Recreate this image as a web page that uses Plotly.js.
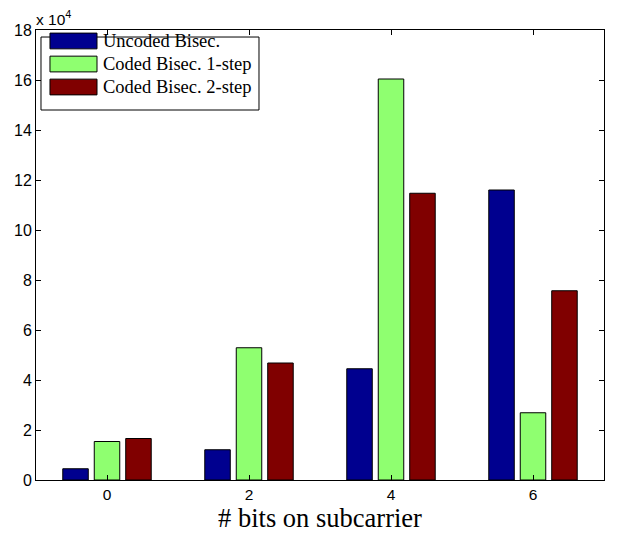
<!DOCTYPE html>
<html>
<head>
<meta charset="utf-8">
<script src="https://cdn.plot.ly/plotly-3.0.1.min.js"></script>
<style>html,body{margin:0;padding:0;background:#fff;}#chart{width:619px;height:540px;}</style>
</head>
<body>
<div id="chart"></div>
<script>
const bitsCategories = [0, 2, 4, 6];
const seriesNames = ["Uncoded Bisec.", "Coded Bisec. 1-step", "Coded Bisec. 2-step"];
const uncodedBisec = [4500, 12100, 44500, 116000];
const codedBisec1step = [15400, 52900, 160400, 26900];
const codedBisec2step = [16600, 46800, 114700, 75700];
const yTickValues = [0, 20000, 40000, 60000, 80000, 100000, 120000, 140000, 160000, 180000];
const yTickLabels = ["0", "2", "4", "6", "8", "10", "12", "14", "16", "18"];
const xTickLabels = ["0", "2", "4", "6"];

const colors = ["#00008F", "#8FFF70", "#800000"];
const seriesValues = [uncodedBisec, codedBisec1step, codedBisec2step];

const traces = seriesValues.map((vals, i) => ({
  type: "bar",
  x: bitsCategories,
  y: vals,
  name: seriesNames[i],
  marker: {color: colors[i], line: {color: "#000", width: 1}},
  showlegend: false,
  hoverinfo: "x+y+name"
}));

// custom MATLAB-style legend (paper coordinates)
const shapes = [{
  type: "rect", xref: "paper", yref: "paper",
  x0: 0.0088, x1: 0.3926, y0: 0.8222, y1: 0.9844,
  line: {color: "#000", width: 1}, fillcolor: "#fff", layer: "above"
}];
const annotations = [];
const rowY = [0.9756, 0.9244, 0.8733];
seriesNames.forEach((n, i) => {
  shapes.push({
    type: "rect", xref: "paper", yref: "paper",
    x0: 0.0246, x1: 0.1074, y0: rowY[i] - 0.0175, y1: rowY[i] + 0.0175,
    line: {color: "#000", width: 1}, fillcolor: colors[i], layer: "above"
  });
  annotations.push({
    xref: "paper", yref: "paper", x: 0.114, y: rowY[i],
    xanchor: "left", yanchor: "middle", showarrow: false,
    text: n, font: {family: "Liberation Serif, Times New Roman, serif", size: 18.5, color: "#000"}
  });
});
annotations.push({
  xref: "paper", yref: "paper", x: -0.004, y: 1.0, xanchor: "left", yanchor: "bottom",
  yshift: 0, showarrow: false,
  text: "x 10<sup>4</sup>", font: {family: "Liberation Sans, Arial, sans-serif", size: 15.5, color: "#000"}
});

const layout = {
  width: 619, height: 540,
  margin: {l: 36, r: 15, t: 30, b: 60},
  paper_bgcolor: "#fff", plot_bgcolor: "#fff",
  barmode: "group", bargap: 0.335, bargroupgap: 0.19,
  font: {family: "Liberation Sans, Arial, sans-serif", size: 16, color: "#000"},
  xaxis: {
    range: [-1, 7], tickvals: bitsCategories, ticktext: xTickLabels,
    showgrid: false, zeroline: false, showline: true, linecolor: "#000", linewidth: 1,
    mirror: "allticks", ticks: "inside", ticklen: 5, tickcolor: "#000",
    tickfont: {size: 15.5},
    title: {text: "# bits on subcarrier", font: {family: "Liberation Serif, Times New Roman, serif", size: 26.5}, standoff: 6}
  },
  yaxis: {
    range: [0, 180000], tickvals: yTickValues, ticktext: yTickLabels,
    showgrid: false, zeroline: false, showline: true, linecolor: "#000", linewidth: 1,
    mirror: "allticks", ticks: "inside", ticklen: 5, tickcolor: "#000",
    tickfont: {size: 16}
  },
  shapes: shapes,
  annotations: annotations
};

Plotly.newPlot("chart", traces, layout, {displayModeBar: false, staticPlot: true});
</script>
</body>
</html>
